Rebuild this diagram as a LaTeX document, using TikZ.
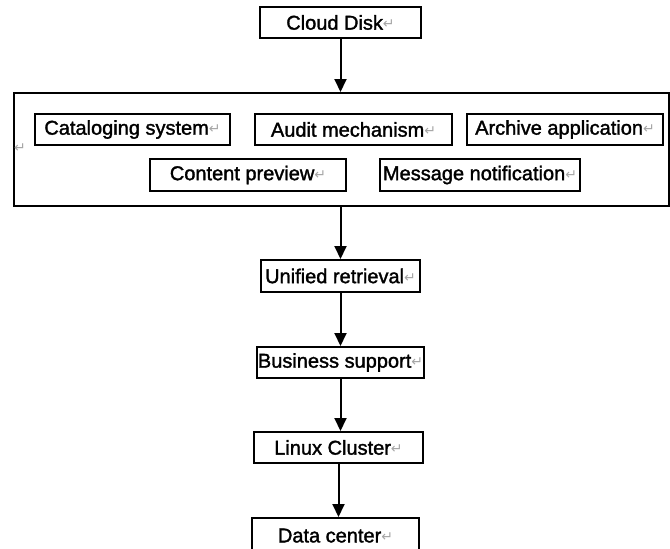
\documentclass[tikz,border=0pt]{standalone}
\usepackage{fontspec}
\setmainfont[FakeBold=1.6]{Liberation Sans}
\newfontfamily\markfont{DejaVu Sans}
\usetikzlibrary{arrows.meta, positioning}

\newcommand{\pmark}{{\markfont\color{black!35}\fontsize{14pt}{14pt}\selectfont\raisebox{1pt}{↵}}}

\begin{document}
\begin{tikzpicture}[x=1pt, y=-1pt,
   box/.style={draw, line width=2pt, inner sep=0pt, font=\fontsize{20pt}{22pt}\selectfont},
   link/.style={-{Triangle[width=12pt,length=13pt]}, line width=2pt}]
   \clip (0,0) rectangle (670,549);

   \node (cloud)[box, minimum width=161pt, minimum height=31pt] at (340.5,22.5) {Cloud Disk\pmark};
   \node (panel)[box, minimum width=655pt, minimum height=113pt] at (341.5,149.5) {};
   \node (panelmark) at (20,149) {\pmark};

   \node (catalog)[box, minimum width=195pt, minimum height=31pt] at (132.5,129.5) {Cataloging system\pmark};
   \node (audit)[box, minimum width=197pt, minimum height=31pt] at (353.5,129.5) {Audit mechanism\pmark};
   \node (archive)[box, minimum width=196pt, minimum height=31pt] at (565,129.5) {Archive application\pmark};
   \node (preview)[box, minimum width=196pt, minimum height=32pt] at (248,175) {Content preview\pmark};
   \node (message)[box, minimum width=200pt, minimum height=32pt] at (480,175) {Message notification\pmark};

   \node (retrieval)[box, minimum width=159pt, minimum height=32pt] at (340.5,276) {Unified retrieval\pmark};
   \node (business)[box, minimum width=167pt, minimum height=31pt] at (340.5,362.5) {Business support\pmark};
   \node (linux)[box, minimum width=169pt, minimum height=31pt] at (338.5,447.5) {Linux Cluster\pmark};
   \node (datacenter)[box, minimum width=167pt, minimum height=44pt, text depth=9pt] at (335.5,540) {Data center\pmark};

   \draw[link] (cloud.south) -- (cloud.south |- panel.north);
   \draw[link] (retrieval.north |- panel.south) -- (retrieval.north);
   \draw[link] (business.north |- retrieval.south) -- (business.north);
   \draw[link] (business.south) -- (business.south |- linux.north);
   \draw[link] (linux.south) -- (linux.south |- datacenter.north);

\end{tikzpicture}
\end{document}
